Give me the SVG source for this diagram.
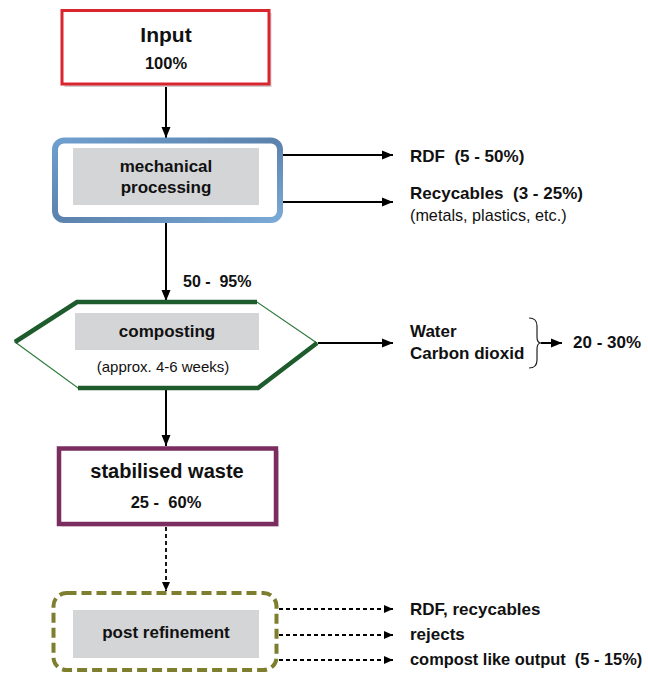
<svg xmlns="http://www.w3.org/2000/svg" width="648" height="675" viewBox="0 0 648 675">
  <style>
    text { font-family: "Liberation Sans", Arial, sans-serif; fill: #111; white-space: pre; }
    .b { font-weight: bold; font-size: 17px; }
    .r { font-size: 16.2px; }
    .c { text-anchor: middle; }
    .panel { fill: #d4d5d7; }
    .line { stroke: #000; stroke-width: 2; fill: none; }
    .dash { stroke: #000; stroke-width: 1.8; fill: none; stroke-dasharray: 4 3; }
  </style>
  <defs>
    <marker id="arrow" markerUnits="userSpaceOnUse" markerWidth="12" markerHeight="10" refX="11" refY="5" orient="auto">
      <path d="M0,0.5 L11,5 L0,9.5 z" fill="#000"/>
    </marker>
    <marker id="arrowSmall" markerUnits="userSpaceOnUse" markerWidth="10" markerHeight="9" refX="9" refY="4.5" orient="auto">
      <path d="M0,0.5 L9,4.5 L0,8.5 z" fill="#000"/>
    </marker>
    <linearGradient id="blueEdge" x1="0" y1="0" x2="1" y2="1">
      <stop offset="0" stop-color="#6f9fcf"/>
      <stop offset="0.5" stop-color="#5b82ad"/>
      <stop offset="1" stop-color="#7aaad6"/>
    </linearGradient>
  </defs>

  <!-- connectors -->
  <g id="connectors">
    <line class="line" x1="166" y1="86" x2="166" y2="138" marker-end="url(#arrow)"/>
    <line class="line" x1="283" y1="155" x2="393" y2="155" marker-end="url(#arrow)"/>
    <line class="line" x1="283" y1="202" x2="393" y2="202" marker-end="url(#arrow)"/>
    <line class="line" x1="166" y1="223" x2="166" y2="301" marker-end="url(#arrow)"/>
    <line class="line" x1="318" y1="343" x2="393" y2="343" marker-end="url(#arrow)"/>
    <line class="line" x1="541" y1="343" x2="562" y2="343" marker-end="url(#arrow)"/>
    <line class="line" x1="166" y1="390" x2="166" y2="446" marker-end="url(#arrow)"/>
    <line class="dash" x1="166" y1="527" x2="166" y2="591" marker-end="url(#arrowSmall)"/>
    <line class="dash" x1="279" y1="609" x2="393" y2="609" marker-end="url(#arrowSmall)"/>
    <line class="dash" x1="279" y1="635" x2="393" y2="635" marker-end="url(#arrowSmall)"/>
    <line class="dash" x1="279" y1="660" x2="393" y2="660" marker-end="url(#arrowSmall)"/>
    <!-- brace grouping water and carbon dioxide -->
    <path d="M529,318 Q537,318 537,326 L537,337 Q537,343 541,343 Q537,343 537,349 L537,360 Q537,368 529,368" fill="none" stroke="#222" stroke-width="1.2"/>
  </g>

  <!-- input -->
  <g id="input">
    <rect x="64.5" y="13" width="207" height="74" fill="#cfcfcf"/>
    <rect x="62" y="10.5" width="207" height="73.5" fill="#fff" stroke="#d9262e" stroke-width="3"/>
    <text class="b c" x="166" y="42" style="font-size:21px">Input</text>
    <text class="b c" x="166" y="69" style="font-size:16.5px">100%</text>
  </g>

  <!-- mechanical processing -->
  <g id="mechanical">
    <rect x="55" y="140.5" width="225" height="79.5" rx="9" fill="#fff" stroke="url(#blueEdge)" stroke-width="6"/>
    <rect class="panel" x="73" y="148" width="186" height="57"/>
    <text class="b c" x="166" y="172">mechanical</text>
    <text class="b c" x="166" y="193">processing</text>
  </g>

  <g id="mechanical-outputs">
    <text class="b" x="410" y="162">RDF  (5 - 50%)</text>
    <text class="b" x="410" y="199">Recycables  (3 - 25%)</text>
    <text class="r" x="410" y="221">(metals, plastics, etc.)</text>
  </g>

  <text id="share-composting" class="b" x="183" y="287" style="font-size:16px">50 -  95%</text>

  <!-- composting -->
  <g id="composting">
    <polygon points="15,342 77,302 257,302 317,343 258,388 78,388" fill="#fff" stroke="#2e7a3c" stroke-width="1.2"/>
    <polyline points="15,342 77,302 257,302" fill="none" stroke="#1e5b2d" stroke-width="4.5" stroke-linejoin="miter"/>
    <polyline points="317,343 258,388 78,388" fill="none" stroke="#1e5b2d" stroke-width="4.5" stroke-linejoin="miter"/>
    <rect class="panel" x="75" y="313" width="184" height="37"/>
    <text class="b c" x="167" y="337">composting</text>
    <text class="r c" x="163" y="372" style="font-size:15px">(approx. 4-6 weeks)</text>
  </g>

  <g id="composting-outputs">
    <text class="b" x="410" y="337">Water</text>
    <text class="b" x="410" y="359">Carbon dioxid</text>
    <text class="b" x="573" y="348">20 - 30%</text>
  </g>

  <!-- stabilised waste -->
  <g id="stabilised">
    <rect x="61.5" y="451" width="217.5" height="75.5" fill="#d8c8d2"/>
    <rect x="59" y="448.5" width="217" height="75.5" fill="#fff" stroke="#7b2d5f" stroke-width="4.5"/>
    <text class="b c" x="167" y="478" style="font-size:20px">stabilised waste</text>
    <text class="b c" x="166" y="508" style="font-size:16.5px">25 -  60%</text>
  </g>

  <!-- post refinement -->
  <g id="post-refinement">
    <rect x="53.5" y="593" width="223" height="77" rx="13" fill="#fff" stroke="#7d7f2f" stroke-width="4" stroke-dasharray="10 5"/>
    <rect class="panel" x="73" y="610" width="186" height="48"/>
    <text class="b c" x="166" y="638">post refinement</text>
  </g>

  <g id="post-outputs">
    <text class="b" x="410" y="615">RDF, recycables</text>
    <text class="b" x="410" y="640">rejects</text>
    <text class="b" x="410" y="665" style="font-size:16.4px">compost like output  (5 - 15%)</text>
  </g>
</svg>
